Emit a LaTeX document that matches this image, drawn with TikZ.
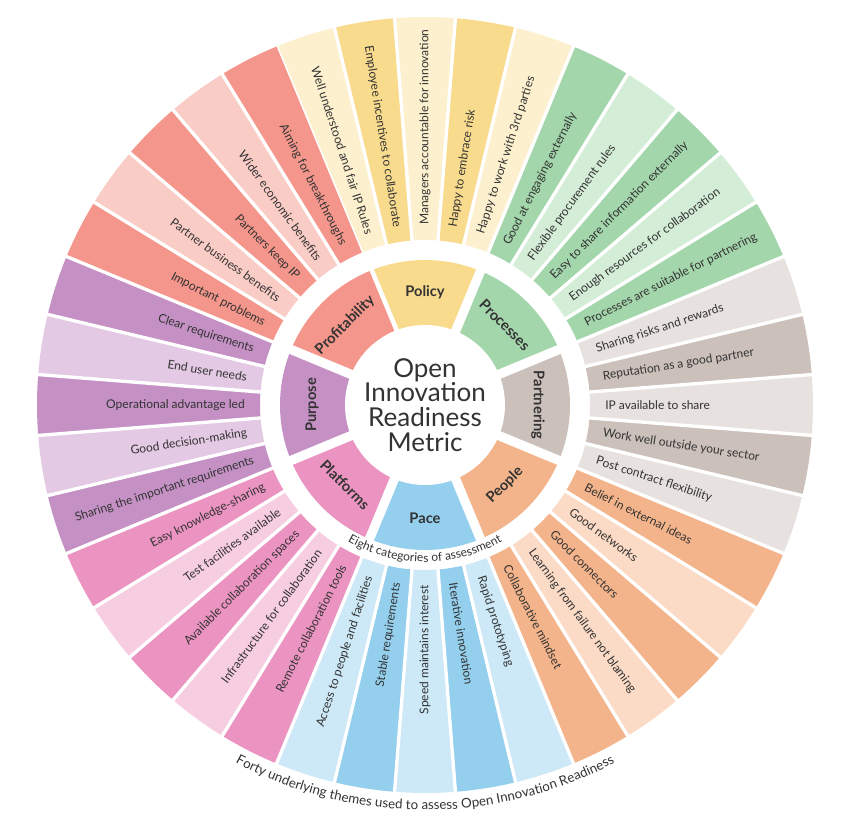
\documentclass[tikz,border=0pt]{standalone}
\usepackage{fontspec}
\setmainfont{Lato}
\usetikzlibrary{decorations.text}
% category colours: cK-0 light, cK-1 dark
\definecolor{c0-0}{HTML}{FDF0CE}\definecolor{c0-1}{HTML}{F9DB8E}
\definecolor{c1-0}{HTML}{D4EDD7}\definecolor{c1-1}{HTML}{A4D6AC}
\definecolor{c2-0}{HTML}{E7E2DF}\definecolor{c2-1}{HTML}{CBC0BA}
\definecolor{c3-0}{HTML}{FBDAC6}\definecolor{c3-1}{HTML}{F4B48B}
\definecolor{c4-0}{HTML}{CDE8F6}\definecolor{c4-1}{HTML}{94CFEE}
\definecolor{c5-0}{HTML}{F7CDE1}\definecolor{c5-1}{HTML}{EC94C1}
\definecolor{c6-0}{HTML}{E3C9E3}\definecolor{c6-1}{HTML}{C591C5}
\definecolor{c7-0}{HTML}{FACCC6}\definecolor{c7-1}{HTML}{F4968B}
\definecolor{ink}{HTML}{333333}
\begin{document}
\begin{tikzpicture}[x=0.75pt, y=0.75pt,
  theme/.style={font=\fontsize{9}{10}\selectfont, text=ink, inner sep=0pt},
  cat/.style={font=\bfseries\fontsize{11}{12}\selectfont, text=ink},
  gap/.style={white, line width=#1}]
\useasboundingbox (-425,-427) rectangle (426,405);

% forty themes
\foreach \txt [count=\i from 0, evaluate=\i as \a using 108-9*\i] in
 {Well understood and fair IP Rules, Employee incentives to collaborate,
  Managers accountable for innovation, Happy to embrace risk, Happy to work with 3rd parties,
  Good at engaging externally, Flexible procurement rules, Easy to share information externally,
  Enough resources for collaboration, Processes are suitable for partnering,
  Sharing risks and rewards, Reputation as a good partner, IP available to share,
  Work well outside your sector, Post contract flexibility,
  Belief in external ideas, Good networks, Good connectors, Learning from failure not blaming,
  Collaborative mindset,
  Rapid prototyping, Iterative innovation, Speed maintains interest, Stable requirements,
  Access to people and facilities,
  Remote collaboration tools, Infrastructure for collaboration, Available collaboration spaces,
  Test facilities available, Easy knowledge-sharing,
  Sharing the important requirements, Good decision-making, Operational advantage led,
  End user needs, Clear requirements,
  Important problems, Partner business benefits, Partners keep IP, Wider economic benefits,
  Aiming for breakthroughs}
{
  \pgfmathtruncatemacro{\c}{floor(\i/5)}
  \pgfmathtruncatemacro{\p}{mod(\i+(\c==6),2)}
  \pgfmathtruncatemacro{\o}{and(\a>-90, \a<=90)}
  \fill[c\c-\p] (\a+4.5:165) -- (\a+4.5:388) arc[start angle=\a+4.5, end angle=\a-4.5, radius=388]
    -- (\a-4.5:165) arc[start angle=\a-4.5, end angle=\a+4.5, radius=165] -- cycle;
  \draw[gap=2.5] (\a+4.5:160) -- (\a+4.5:395);
  \ifnum\o=1
    \node[theme, rotate=\a, anchor=west] (t\i) at (\a:180) {\txt};
  \else
    \node[theme, rotate=\a+180, anchor=east] (t\i) at (\a:180) {\txt};
  \fi
}

% eight categories
\foreach \name/\r [count=\k from 0, evaluate=\k as \a using 90-45*\k] in
 {Policy/-90, Processes/-90, Partnering/-90, People/90, Pace/90,
  Platforms/90, Purpose/-90, Profitability/-90}
{
  \fill[c\k-1] (\a+22.5:80) -- (\a+22.5:145) arc[start angle=\a+22.5, end angle=\a-22.5, radius=145]
    -- (\a-22.5:80) -- cycle;
  \draw[gap=7] (\a+22.5:78) -- (\a+22.5:150);
  \node[cat, rotate=\a+\r] (c\k) at (\a:113) {\name};
}
\fill[white] (0,0) circle[radius=80];

\node[font=\fontsize{19.5}{18.5}\selectfont, text=ink, align=center] (metric) at (0,0)
  {Open\\Innovation\\Readiness\\Metric};

\path[decorate, decoration={text along path, text align=center,
  text={|\fontsize{9}{10}\selectfont\color{ink}|Eight categories of assessment}}]
  (236:157) arc[start angle=236, end angle=304, radius=157];
\path[decorate, decoration={text along path, text align=center,
  text={|\fontsize{10}{11}\selectfont\color{ink}|Forty underlying themes used to assess Open Innovation Readiness}}]
  (240:405) arc[start angle=240, end angle=300, radius=405];
\end{tikzpicture}
\end{document}
